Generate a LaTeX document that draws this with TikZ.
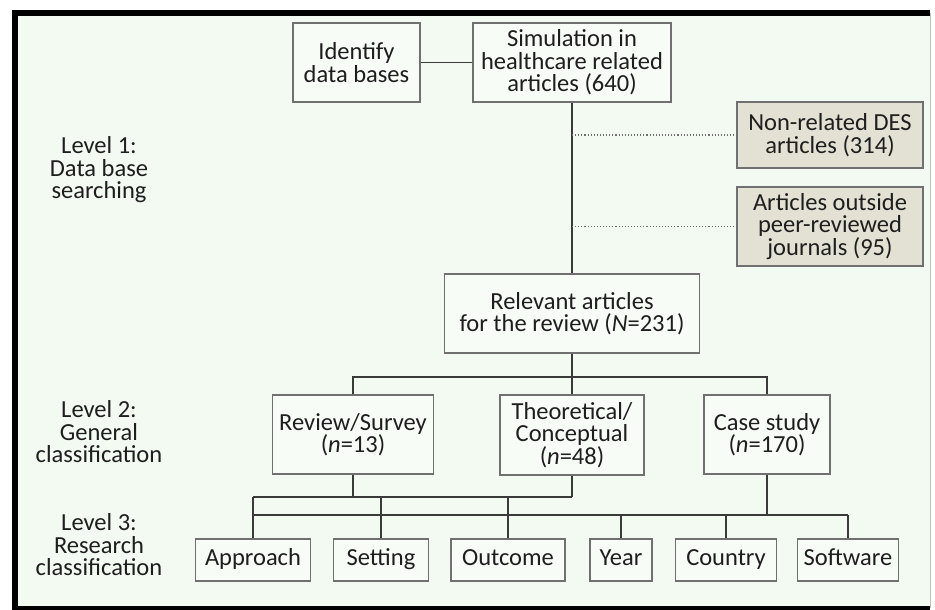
\documentclass[tikz,border=0pt]{standalone}
\usepackage{fontspec}
\setmainfont{Carlito}
\definecolor{bgmint}{HTML}{F2FAF2}
\definecolor{boxfill}{HTML}{F8FCF7}
\definecolor{greyfill}{HTML}{E3E1D3}
\definecolor{boxline}{HTML}{707070}
\definecolor{linkline}{HTML}{3A3A3A}
\definecolor{inktext}{HTML}{1E1E1E}
\begin{document}
\begin{tikzpicture}[x=1pt,y=-1pt,
    font=\fontsize{24.5}{22.5}\selectfont,
    every node/.style={text=inktext},
    box/.style={draw=boxline,line width=1.1pt,fill=boxfill,align=center,inner sep=0pt},
    greybox/.style={box,fill=greyfill},
    leafbox/.style={box,minimum height=42,text height=15pt,text depth=5pt},
    link/.style={draw=linkline,line width=1.4pt},
    levelname/.style={align=center,inner sep=0pt}]
        \useasboundingbox (0,0) rectangle (935,610);
        \fill[white] (0,0) rectangle (935,610);
        \fill[bgmint] (15,13) rectangle (930,608);
        \draw[black!25,line width=1pt] (930,13) -- (930,608);
        \draw[black,line width=6pt] (930,13) -- (15,13) -- (15,608.5) -- (930,608.5);

        \node[levelname] (lvla) at (99,170) {Level 1:\\Data base\\searching};
        \node[levelname] (lvlb) at (99,432) {Level 2:\\General\\classification};
        \node[levelname] (lvlc) at (99,545) {Level 3:\\Research\\classification};

        \node[box,minimum width=127,minimum height=79] (ident) at (356.5,62.5) {Identify\\data bases};
        \node[box,minimum width=198,minimum height=79] (sim) at (572,62.5) {Simulation in\\healthcare related\\articles (640)};
        \node[greybox,minimum width=186,minimum height=66] (nonrel) at (830,135) {Non-related DES\\articles (314)};
        \node[greybox,minimum width=186,minimum height=79] (outside) at (830,226.5) {Articles outside\\peer-reviewed\\journals (95)};
        \node[box,minimum width=255,minimum height=79] (rel) at (572,313.5) {Relevant articles\\for the review (\textit{N}=231)};

        \node[box,minimum width=161,minimum height=79] (review) at (353,434.5) {Review/Survey\\(\textit{n}=13)};
        \node[box,minimum width=144,minimum height=80] (theo) at (572,435) {Theoretical/\\Conceptual\\(\textit{n}=48)};
        \node[box,minimum width=126,minimum height=79] (case) at (767,434.5) {Case study\\(\textit{n}=170)};

        \node[leafbox,minimum width=115] (approach) at (253,560) {Approach};
        \node[leafbox,minimum width=95] (setting) at (381,560) {Setting};
        \node[leafbox,minimum width=114] (outcome) at (508,560) {Outcome};
        \node[leafbox,minimum width=62] (year) at (621,560) {Year};
        \node[leafbox,minimum width=101] (country) at (726,560) {Country};
        \node[leafbox,minimum width=101] (software) at (848,560) {Software};

        \coordinate (bar) at (572,377);
        \coordinate (upL) at (253,497);
        \coordinate (upR) at (572,497);
        \coordinate (loL) at (253,515);
        \coordinate (loR) at (848,515);

        \draw[link] (ident) -- (sim);
        \draw[link] (sim.south) -- (rel.north);
        \draw[boxline,line width=1.1pt,dotted] (sim.south |- nonrel.west) -- (nonrel.west);
        \draw[boxline,line width=1.1pt,dotted] (sim.south |- outside.west) -- (outside.west);

        \draw[link] (rel.south) -- (theo.north);
        \draw[link] (review.north) |- (bar) -| (case.north);

        \draw[link] (review.south) -- (review.south |- upL);
        \draw[link] (theo.south) -- (upR);
        \draw[link] (upL) -- (upR);
        \draw[link] (loL) -- (loR);
        \draw[link] (case.south) -- (case.south |- loR);
        \foreach \n in {approach,setting,outcome}
            \draw[link] (\n.north) -- (\n.north |- upL);
        \foreach \n in {year,country,software}
            \draw[link] (\n.north) -- (\n.north |- loL);
    \end{tikzpicture}
\end{document}
